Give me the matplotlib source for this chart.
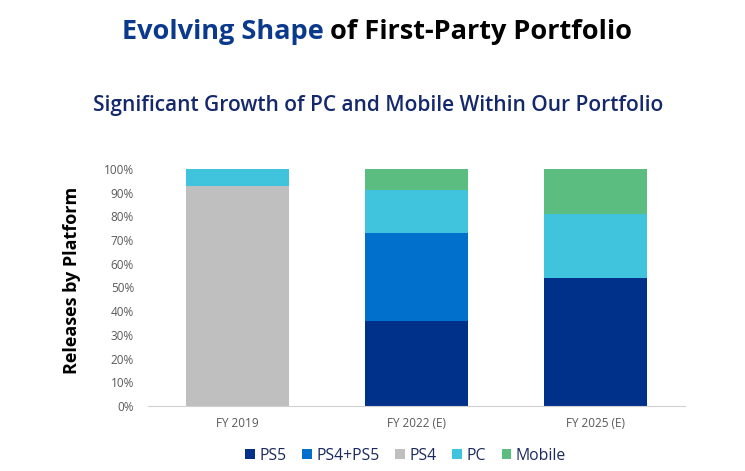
import matplotlib.pyplot as plt
import numpy as np

categories = ["FY 2019", "FY 2022 (E)", "FY 2025 (E)"]
platforms = ["PS5", "PS4+PS5", "PS4", "PC", "Mobile"]
ps5 = [0, 36, 54]
ps4_ps5 = [0, 37, 0]
ps4 = [93, 0, 0]
pc = [7, 18, 27]
mobile = [0, 9, 19]
colors = ["#00318a", "#0070cc", "#bfbfbf", "#40c4de", "#5cbd80"]

plt.rcParams['font.family'] = ['Open Sans', 'DejaVu Sans']

fig = plt.figure(figsize=(7.45, 4.71), dpi=100)
ax = fig.add_axes([148 / 745, 1 - 406 / 471, (685 - 148) / 745, (406 - 169) / 471])

x = np.arange(len(categories))
bottom = np.zeros(len(categories))
for name, vals, c in zip(platforms, [ps5, ps4_ps5, ps4, pc, mobile], colors):
    vals = np.array(vals, dtype=float)
    ax.bar(x, vals, 0.57, bottom=bottom, color=c, label=name)
    bottom += vals

ax.set_xlim(-0.5, 2.5)
ax.set_ylim(0, 100)
ax.set_yticks(range(0, 101, 10))
ax.set_yticklabels([f"{v}%" for v in range(0, 101, 10)])
ax.set_xticks(x)
ax.set_xticklabels(categories)
ax.tick_params(axis='both', length=0, labelsize=8.5, labelcolor='#595959')
ax.tick_params(axis='x', pad=8)
ax.tick_params(axis='y', pad=10)
for s in ['top', 'right', 'left']:
    ax.spines[s].set_visible(False)
ax.spines['bottom'].set_color('#d0d0d0')
ax.set_ylabel("Releases by Platform", fontsize=13, fontweight='bold')
ax.yaxis.set_label_coords(-0.124, 0.53)

leg = ax.legend(loc='center', bbox_to_anchor=(0.48, -0.21), ncol=5, frameon=False,
                fontsize=11.3, handlelength=0.6, handleheight=0.6, handletextpad=0.3,
                columnspacing=1.0, labelcolor='#1a2a5c')

# two-colour title
t1 = fig.text(0.5, 1 - 32 / 471, "Evolving Shape", fontsize=19.5, fontweight='bold',
              color='#0b3a8c', ha='left', va='center')
t2 = fig.text(0.5, 1 - 32 / 471, " of First-Party Portfolio", fontsize=19.5, fontweight='bold',
              color='black', ha='left', va='center')
fig.canvas.draw()
r = fig.canvas.get_renderer()
w1 = t1.get_window_extent(r).width / fig.bbox.width
w2 = t2.get_window_extent(r).width / fig.bbox.width
start = 0.5 - (w1 + w2) / 2 + 0.006
t1.set_x(start)
t2.set_x(start + w1)

fig.text(0.508, 1 - 106 / 471, "Significant Growth of PC and Mobile Within Our Portfolio",
         fontsize=15, fontweight='semibold', color='#14286b', ha='center', va='center')

fig.savefig("out.png", dpi=100)
